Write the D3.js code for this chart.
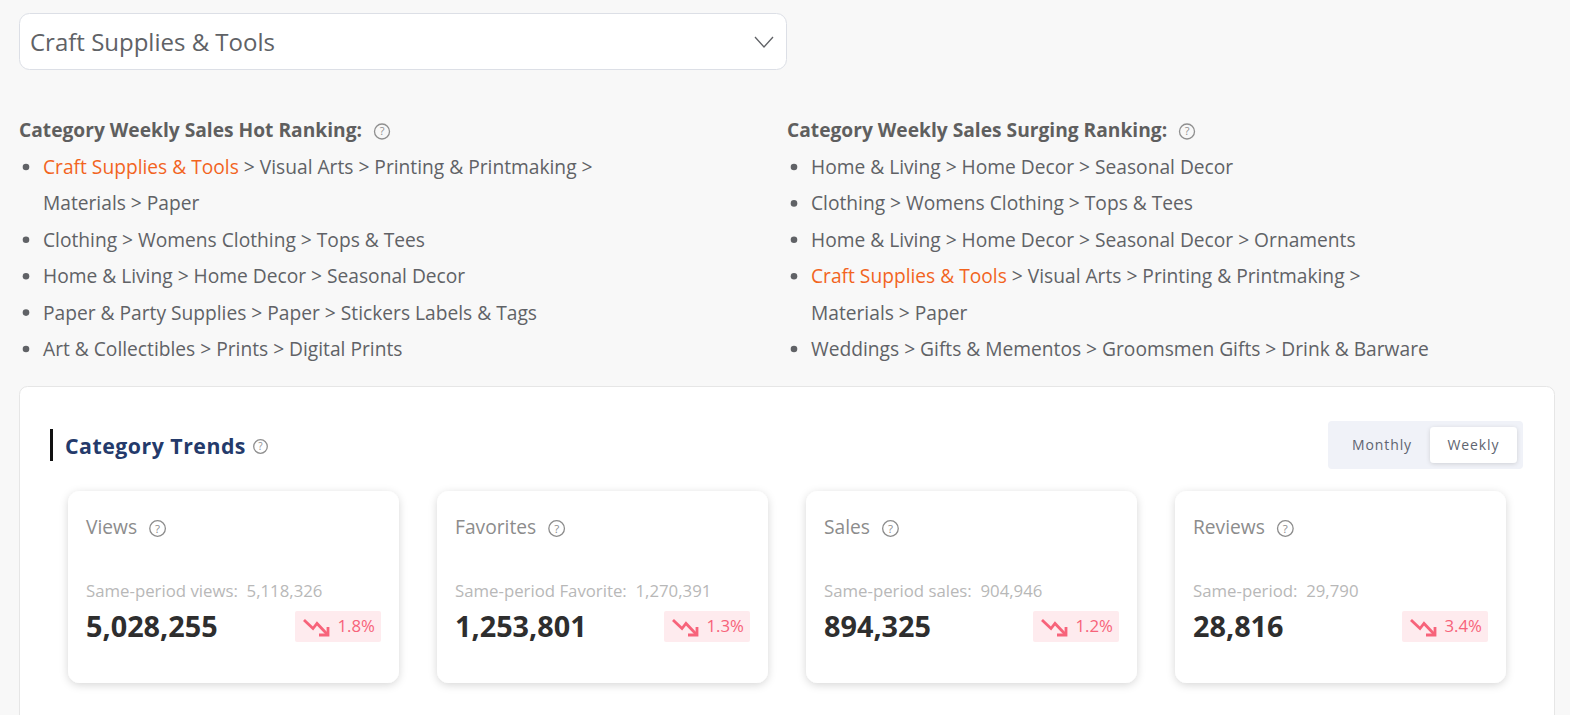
<!DOCTYPE html>
<html><head><meta charset="utf-8">
<script src="https://cdn.jsdelivr.net/npm/d3@7"></script>
<style>
html,body{margin:0;padding:0;background:#f8f8f8;overflow:hidden}
svg{display:block;font-family:"Open Sans",sans-serif}
</style></head><body>
<svg id="c" width="1570" height="715"></svg>
<script>
const selectedCategory = "Craft Supplies & Tools";
const hotTitle = "Category Weekly Sales Hot Ranking:";
const surgeTitle = "Category Weekly Sales Surging Ranking:";
const hotRows = [
  [selectedCategory, " > Visual Arts > Printing & Printmaking >", 1],
  ["", "Materials > Paper", 0],
  ["", "Clothing > Womens Clothing > Tops & Tees", 1],
  ["", "Home & Living > Home Decor > Seasonal Decor", 1],
  ["", "Paper & Party Supplies > Paper > Stickers Labels & Tags", 1],
  ["", "Art & Collectibles > Prints > Digital Prints", 1]
];
const surgeRows = [
  ["", "Home & Living > Home Decor > Seasonal Decor", 1],
  ["", "Clothing > Womens Clothing > Tops & Tees", 1],
  ["", "Home & Living > Home Decor > Seasonal Decor > Ornaments", 1],
  [selectedCategory, " > Visual Arts > Printing & Printmaking >", 1],
  ["", "Materials > Paper", 0],
  ["", "Weddings > Gifts & Mementos > Groomsmen Gifts > Drink & Barware", 1]
];
const metricNames = ["Views","Favorites","Sales","Reviews"];
const priorLabels = ["Same-period views:","Same-period Favorite:","Same-period sales:","Same-period:"];
const priorValues = [5118326,1270391,904946,29790];
const currentValues = [5028255,1253801,894325,28816];
const changePct = [1.8,1.3,1.2,3.4];
const periods = ["Monthly","Weekly"];

const fmt = d3.format(",");
const svg = d3.select("#c");

function help(g,cx,cy,r,fs,col){
  const h=g.append("g");
  h.append("circle").attr("cx",cx).attr("cy",cy).attr("r",r).attr("fill","none").attr("stroke",col).attr("stroke-width",1.3);
  h.append("text").attr("x",cx).attr("y",cy+fs*0.36).attr("text-anchor","middle").attr("font-size",fs).attr("fill",col).text("?");
}
const defs=svg.append("defs");
const sh=defs.append("filter").attr("id","sh").attr("x","-10%").attr("y","-10%").attr("width","120%").attr("height","125%");
sh.append("feDropShadow").attr("dx",0).attr("dy",2).attr("stdDeviation",4).attr("flood-color","#000").attr("flood-opacity",0.16);
const sh2=defs.append("filter").attr("id","sh2").attr("x","-10%").attr("y","-20%").attr("width","120%").attr("height","150%");
sh2.append("feDropShadow").attr("dx",0).attr("dy",1).attr("stdDeviation",2).attr("flood-color","#000").attr("flood-opacity",0.14);

// dropdown
svg.append("rect").attr("x",19.5).attr("y",13.5).attr("width",767).attr("height",56).attr("rx",10).attr("fill","#fff").attr("stroke","#dcdfe6");
svg.append("text").attr("x",30).attr("y",51).attr("font-size",24).attr("fill","#606266").text(selectedCategory);
svg.append("path").attr("d",d3.line()([[755,37],[764,47],[773,37]])).attr("fill","none").attr("stroke","#606266").attr("stroke-width",1.3);

// rankings
const rowY = d3.scaleLinear().domain([0,5]).range([174,356]);
function ranking(x,title,rows,helpX){
  const g=svg.append("g");
  g.append("text").attr("x",x).attr("y",137).attr("font-size",19.2).attr("font-weight",700).attr("fill","#5f5f5f").text(title);
  help(g,helpX,131.5,7.5,11,"#8f8f8f");
  rows.forEach((r,i)=>{
    if(r[2]) g.append("circle").attr("cx",x+7).attr("cy",rowY(i)-7).attr("r",3.3).attr("fill","#606266");
    const t=g.append("text").attr("x",x+24).attr("y",rowY(i)).attr("font-size",19.2).attr("fill","#606266");
    if(r[0]) t.append("tspan").attr("fill","#f2641e").text(r[0]);
    t.append("tspan").text(r[1]);
  });
}
ranking(19,hotTitle,hotRows,382);
ranking(787,surgeTitle,surgeRows,1187);

// panel
svg.append("rect").attr("x",19.5).attr("y",386.5).attr("width",1535).attr("height",360).attr("rx",8).attr("fill","#fff").attr("stroke","#e6e6e6");
svg.append("rect").attr("x",50).attr("y",429).attr("width",3).attr("height",32).attr("fill","#111");
svg.append("text").attr("x",65).attr("y",453.5).attr("font-size",21.3).attr("font-weight",700).attr("letter-spacing",0.5).attr("fill","#243a6b").text("Category Trends");
help(svg,260.5,446.5,6.8,10,"#8f8f8f");

// toggle
svg.append("rect").attr("x",1328).attr("y",421).attr("width",195).attr("height",48).attr("rx",4).attr("fill","#f0f2f8");
svg.append("rect").attr("x",1430).attr("y",427).attr("width",87).attr("height",36).attr("rx",4).attr("fill","#fff").attr("filter","url(#sh2)");
const togX=d3.scalePoint().domain(periods).range([1382,1473.5]);
periods.forEach(p=>svg.append("text").attr("x",togX(p)).attr("y",450).attr("text-anchor","middle").attr("font-size",14).attr("letter-spacing",0.9).attr("fill","#5e6470").text(p));

// cards
const cardX=d3.scalePoint().domain(metricNames).range([68,1175]);
metricNames.forEach((m,i)=>{
  const g=svg.append("g").attr("transform",`translate(${cardX(m)},491)`);
  g.append("rect").attr("width",331).attr("height",192).attr("rx",12).attr("fill","#fff").attr("filter","url(#sh)");
  const name=g.append("text").attr("x",18).attr("y",43).attr("font-size",19.2).attr("fill","#8c8c8c").text(m);
  const w=name.node().getComputedTextLength();
  help(g,18+w+20.5,37.5,7.8,11.5,"#8c8c8c");
  g.append("text").attr("x",18).attr("y",105.5).attr("font-size",16.8).attr("fill","#b8b8b8").attr("xml:space","preserve").text(priorLabels[i]+"  "+fmt(priorValues[i]));
  g.append("text").attr("x",18).attr("y",146).attr("font-size",28.8).attr("font-weight",700).attr("fill","#2e2e2e").text(fmt(currentValues[i]));
  g.append("rect").attr("x",227).attr("y",120).attr("width",86).attr("height",31).attr("rx",2).attr("fill","#feebee");
  g.append("path").attr("d",d3.line()([[236,129],[245,137.5],[249,132.5],[259,143]])).attr("fill","none").attr("stroke","#f7637a").attr("stroke-width",2.8);
  g.append("path").attr("d",d3.line()([[260,136],[260,144],[251,144]])).attr("fill","none").attr("stroke","#f7637a").attr("stroke-width",2.8);
  g.append("text").attr("x",269.5).attr("y",141).attr("font-size",16.8).attr("fill","#f7637a").text(changePct[i].toFixed(1)+"%");
});
</script>
</body></html>
